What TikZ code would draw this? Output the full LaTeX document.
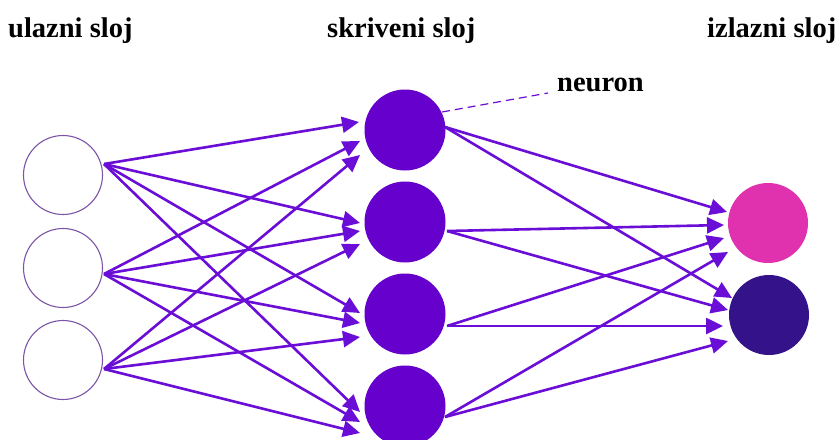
\documentclass[tikz,border=0pt]{standalone}
\usepackage{fontspec}
\setmainfont{Liberation Serif}
\usetikzlibrary{arrows.meta,calc}
\definecolor{arrowc}{HTML}{6A0DD6}
\definecolor{hidc}{HTML}{6600CC}
\definecolor{pinkc}{HTML}{E031AE}
\definecolor{darkc}{HTML}{34128A}
\definecolor{inc}{HTML}{7D55A8}
\begin{document}
\begin{tikzpicture}[x=1pt,y=-1pt,
  inneuron/.style={circle,draw=inc,line width=1.1pt,fill=white,minimum size=79pt,inner sep=0pt},
  hidneuron/.style={circle,fill=hidc,minimum size=81pt,inner sep=0pt},
  outpink/.style={circle,fill=pinkc,minimum size=80pt,inner sep=0pt},
  outdark/.style={circle,fill=darkc,minimum size=80pt,inner sep=0pt},
  conn/.style={draw=arrowc,line width=2.6pt,-{Triangle[length=17pt,width=16pt]}},
  lbl/.style={font=\bfseries\fontsize{28.5}{30}\selectfont,anchor=base west,inner sep=0pt}]
\useasboundingbox (0,0) rectangle (837,439);
\fill[white] (0,0) rectangle (837,439);

% labels
\node[lbl] (tin) at (8,37) {ulazni sloj};
\node[lbl] (thid) at (327,37) {skriveni sloj};
\node[lbl] (tout) at (707,37) {izlazni sloj};
\node[lbl] (tneu) at (557,91) {neuron};

% neurons
\node[inneuron] (i1) at (63,175) {};
\node[inneuron] (i2) at (63,268) {};
\node[inneuron] (i3) at (63,360) {};
\node[hidneuron] (h1) at (405,130) {};
\node[hidneuron] (h2) at (405,222) {};
\node[hidneuron] (h3) at (405,314) {};
\node[hidneuron] (h4) at (405,406) {};
\node[outpink] (o1) at (768,223) {};
\node[outdark] (o2) at (769,315) {};

% input -> hidden
\coordinate (s1) at ($(i1.center)+(41,-11)$);
\coordinate (s2) at ($(i2.center)+(41,6)$);
\coordinate (s3) at ($(i3.center)+(41,9)$);
\draw[conn] (s1) -- ($(h1.center)+(-46,-8)$);
\draw[conn] (s2) -- ($(h1.center)+(-45,11)$);
\draw[conn] (s3) -- ($(h1.center)+(-45,25)$);
\draw[conn] (s1) -- ($(h2.center)+(-45,1)$);
\draw[conn] (s2) -- ($(h2.center)+(-45,9)$);
\draw[conn] (s3) -- ($(h2.center)+(-45,22)$);
\draw[conn] (s1) -- ($(h3.center)+(-45,-1)$);
\draw[conn] (s2) -- ($(h3.center)+(-45,9)$);
\draw[conn] (s3) -- ($(h3.center)+(-45,23)$);
\draw[conn] (s1) -- ($(h4.center)+(-45,6)$);
\draw[conn] (s2) -- ($(h4.center)+(-45,16)$);
\draw[conn] (s3) -- ($(h4.center)+(-45,27)$);

% hidden -> output
\coordinate (t1) at ($(h1.center)+(40,-3)$);
\coordinate (t2) at ($(h2.center)+(42,9)$);
\coordinate (t3) at ($(h3.center)+(42,12)$);
\coordinate (t4) at ($(h4.center)+(40,11)$);
\draw[conn] (t1) -- ($(o1.center)+(-41,-11)$);
\draw[conn] (t2) -- ($(o1.center)+(-44,2)$);
\draw[conn] (t3) -- ($(o1.center)+(-44,15)$);
\draw[conn] (t4) -- ($(o1.center)+(-40,29)$);
\draw[conn] (t1) -- ($(o2.center)+(-37,-17)$);
\draw[conn] (t2) -- ($(o2.center)+(-41,-5)$);
\draw[conn] (t3) -- ($(o2.center)+(-46,11)$);
\draw[conn] (t4) -- ($(o2.center)+(-41,26)$);

% neuron pointer
\draw[arrowc,line width=1.2pt,dash pattern=on 8pt off 5pt] ($(h1.center)+(37,-18)$) -- ($(tneu.base west)+(-9,2)$);
\end{tikzpicture}
\end{document}
